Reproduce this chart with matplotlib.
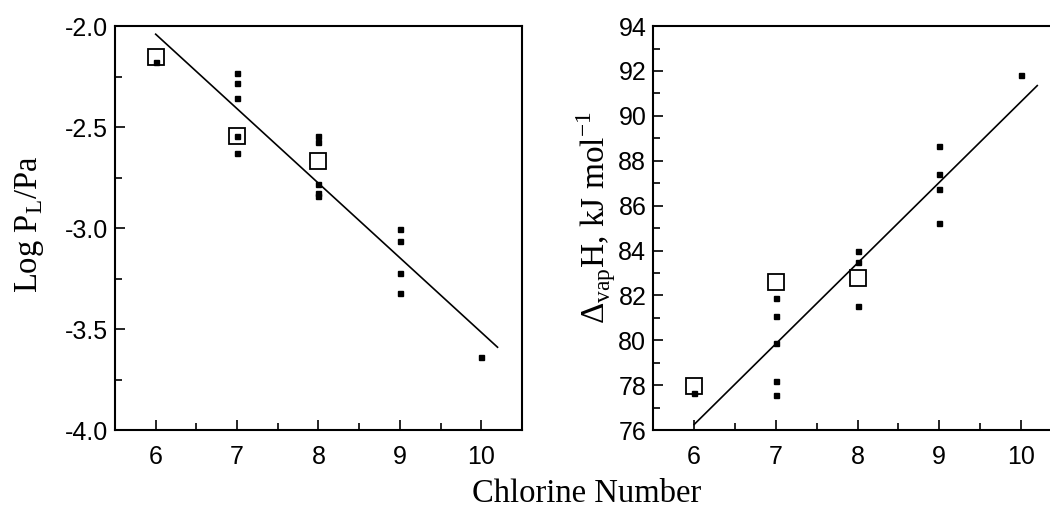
import numpy as np
import matplotlib.pyplot as plt
from matplotlib.ticker import MultipleLocator

# left panel: log vapour pressure
cl_small_p = [6, 7, 7, 7, 7, 7, 8, 8, 8, 8, 8, 9, 9, 9, 9, 10]
logp_small = [-2.18, -2.23, -2.28, -2.356, -2.545, -2.627,
              -2.545, -2.573, -2.784, -2.825, -2.84,
              -3.006, -3.063, -3.22, -3.323, -3.637]
cl_open_p = [6, 7, 8]
logp_open = [-2.153, -2.545, -2.668]
fit_p = (-0.369, 0.174)   # slope, intercept

# right panel: enthalpy of vaporization
cl_small_h = [6, 7, 7, 7, 7, 7, 8, 8, 8, 9, 9, 9, 9, 10]
dh_small = [77.66, 81.89, 81.08, 79.87, 78.17, 77.57,
            83.99, 83.51, 81.52, 88.64, 87.41, 86.72, 85.21, 91.84]
cl_open_h = [6, 7, 8]
dh_open = [77.96, 82.59, 82.79]
fit_h = (3.595, 54.68)

fit_x = [6.0, 10.2]

plt.rcParams['font.family'] = ['Liberation Sans', 'DejaVu Sans']
plt.rcParams['mathtext.fontset'] = 'custom'
plt.rcParams['mathtext.rm'] = 'Liberation Serif'

fig = plt.figure(figsize=(10.5, 5.12), dpi=100)
ax1 = fig.add_axes([0.1095, 0.160, 0.3876, 0.789])
ax2 = fig.add_axes([0.6222, 0.160, 0.389, 0.789])


def style(ax):
    for s in ax.spines.values():
        s.set_linewidth(1.5)
    ax.xaxis.set_major_locator(MultipleLocator(1))
    ax.xaxis.set_minor_locator(MultipleLocator(0.5))
    ax.tick_params(which='both', direction='in', width=1.2, labelsize=18,
                   top=False, right=False)
    ax.tick_params(axis='x', pad=11)
    ax.tick_params(axis='y', pad=5)
    ax.tick_params(which='major', length=7)
    ax.tick_params(which='minor', length=5)
    ax.set_xlim(5.5, 10.5)


def draw(ax, xs, ys, xo, yo, fit):
    fx = np.array(fit_x)
    ax.plot(fx, fit[0] * fx + fit[1], color='black', lw=1.2)
    ax.plot(xo, yo, linestyle='none', marker='s', ms=11, mfc='white',
            mec='black', mew=1.3)
    ax.plot(xs, ys, linestyle='none', marker='s', ms=3.6, color='black')


draw(ax1, cl_small_p, logp_small, cl_open_p, logp_open, fit_p)
style(ax1)
ax1.set_ylim(-4.0, -2.0)
ax1.yaxis.set_major_locator(MultipleLocator(0.5))
ax1.yaxis.set_minor_locator(MultipleLocator(0.25))
ax1.yaxis.set_major_formatter(plt.FormatStrFormatter('%.1f'))

draw(ax2, cl_small_h, dh_small, cl_open_h, dh_open, fit_h)
style(ax2)
ax2.set_ylim(76, 94)
ax2.yaxis.set_major_locator(MultipleLocator(2))
ax2.yaxis.set_minor_locator(MultipleLocator(1))

serif = ['Liberation Serif', 'DejaVu Serif']
fig.text(30 / 1050, 1 - 224 / 512, r'Log P$_\mathregular{L}$/Pa', rotation=90,
         ha='center', va='center', fontsize=23.5, family=serif)
fig.text(596 / 1050, 1 - 218 / 512,
         r'Δ$_\mathregular{vap}$H, kJ mol$^\mathregular{-1}$', rotation=90,
         ha='center', va='center', fontsize=24, family=serif)
fig.text(587 / 1050, 1 - 494 / 512, 'Chlorine Number', ha='center',
         va='center', fontsize=23.5, family=serif)

fig.savefig('out.png', dpi=100)
